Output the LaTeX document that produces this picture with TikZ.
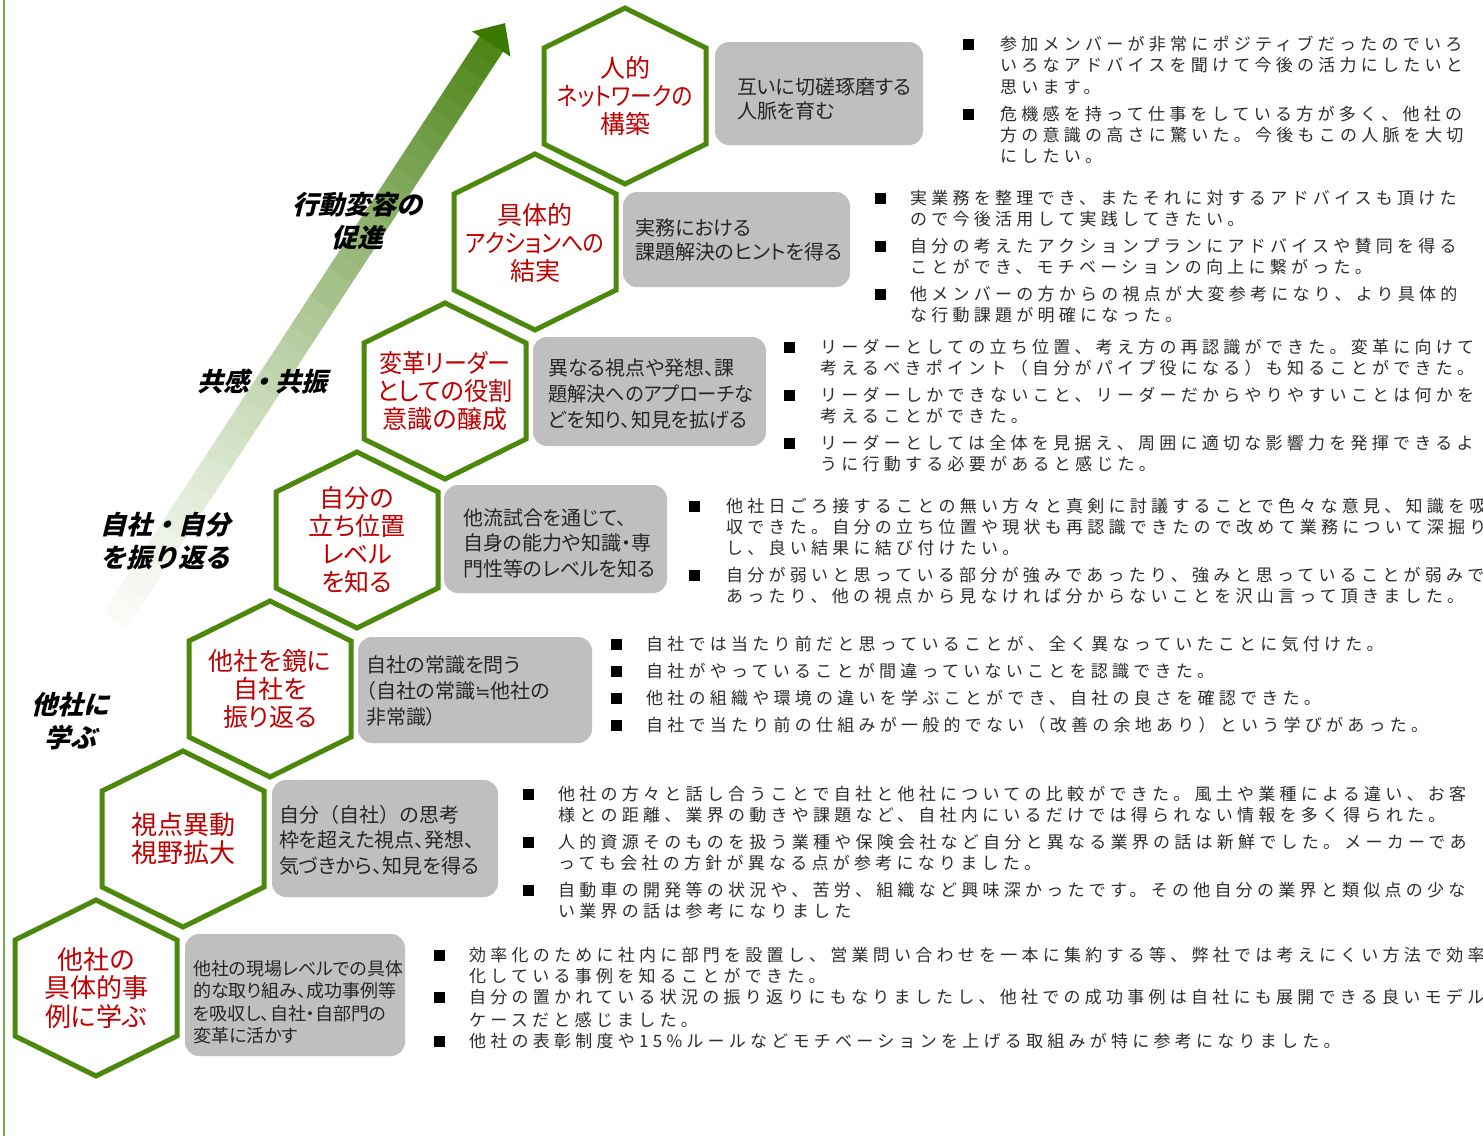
\documentclass[tikz,border=0pt]{standalone}
\usepackage{fontspec}
\usepackage{graphicx}
\newfontfamily\jpp{Noto Sans CJK JP}[RawFeature=+palt]
\newfontfamily\jpn{Noto Sans CJK JP}
\newfontfamily\jpc{Noto Sans CJK JP}[LetterSpace=25]
\newfontfamily\jpi{Noto Sans CJK JP}[FakeSlant=0.25]
\newfontfamily\dvs{DejaVu Sans}
\definecolor{hexgreen}{RGB}{76,136,12}
\definecolor{hexred}{RGB}{192,0,0}
\definecolor{boxgray}{RGB}{191,191,191}
\definecolor{arrowgreen}{RGB}{58,120,0}
\definecolor{edgegreen}{RGB}{112,173,71}
\definecolor{boxtext}{RGB}{38,38,38}
\definecolor{cmttext}{RGB}{45,45,45}
\newcommand\hexshape[2]{\draw[hexline,shift={(#1,#2)}] (0,-88) -- (81,-48) -- (81,48) -- (0,88) -- (-81,48) -- (-81,-48) -- cycle;}
\newcommand\cl[4]{\node[cmt] (#1) at (#2,#3) {#4};}
\newcommand\bul[2]{\fill[bulletsq] (#1-5.5,#2-5.5) rectangle (#1+5.5,#2+5.5);}
\newcommand\narrow[2]{\scalebox{#1}[1]{#2}}
\tikzset{
 hexline/.style={draw=hexgreen, line width=5pt, fill=white, line join=miter},
 hextext/.style={font=\jpp\fontsize{25}{28}\selectfont, text=hexred, align=center, inner sep=0pt},
 graybox/.style={fill=boxgray, rounded corners=14pt},
 boxtxt/.style={font=\jpp\fontsize{20}{25}\selectfont, text=boxtext, align=left, anchor=west, inner sep=0pt},
 cmt/.style={font=\jpc\fontsize{17}{21}\selectfont, text=cmttext, anchor=west, inner sep=0pt, text height=15pt, text depth=2pt},
 bulletsq/.style={fill=black},
 lbl/.style={font=\jpi\bfseries\fontsize{26}{33}\selectfont, align=center, inner sep=0pt},
}
\begin{document}
\begin{tikzpicture}[x=1pt,y=-1pt]
\useasboundingbox (0,0) rectangle (1483,1136);
\fill[white] (0,0) rectangle (1483,1136);
% left edge line
\draw[edgegreen, line width=1.5pt] (4,0) -- (4,1136);
% big gradient arrow
\begin{scope}[shift={(115,620)}, rotate=56.84]
 \foreach \i in {0,...,39} {
   \pgfmathsetmacro\xa{\i*17.2}
   \pgfmathsetmacro\xb{\i*17.2+18}
   \pgfmathtruncatemacro\pc{3+89*((\i+0.5)/40)^1.3}
   \fill[arrowgreen!\pc!white] (\xa,-14) rectangle (\xb,14);
 }
 \fill[arrowgreen] (688,-23) -- (713,0) -- (688,23) -- cycle;
\end{scope}
% labels along arrow
\node[lbl] (l1) at (357,221) {行動変容の\\促進};
\node[lbl] (l2) at (262,381) {共感・共振};
\node[lbl] (l3) at (165,541) {自社・自分\\を振り返る};
\node[lbl] (l4) at (70,721) {他社に\\学ぶ};
% hexagons
\hexshape{625}{96}
\hexshape{535}{242}
\hexshape{445}{391}
\hexshape{357}{540}
\hexshape{270}{689}
\hexshape{183}{839}
\hexshape{96}{988}
\node[hextext] (h1) at (625,96) {人的\\\narrow{0.87}{ネットワークの}\\構築};
\node[hextext] (h2) at (535,243) {具体的\\\narrow{0.88}{アクションへの}\\結実};
\node[hextext] (h3) at (445,391) {\narrow{0.92}{変革リーダー}\\\narrow{0.97}{としての役割}\\意識の醸成};
\node[hextext] (h4) at (357,540) {自分の\\立ち位置\\レベル\\を知る};
\node[hextext] (h5) at (270,689) {他社を鏡に\\自社を\\振り返る};
\node[hextext, font=\jpp\fontsize{26}{28}\selectfont] (h6) at (183,839) {視点異動\\視野拡大};
\node[hextext, font=\jpp\fontsize{26}{28.5}\selectfont] (h7) at (96,988) {他社の\\具体的事\\例に学ぶ};
% gray boxes
\fill[graybox] (715,42) rectangle (923,145);
\fill[graybox] (623,192) rectangle (850,287);
\fill[graybox] (533,337) rectangle (766,446);
\fill[graybox] (444,485) rectangle (667,593);
\fill[graybox] (358,637) rectangle (592,743);
\fill[graybox] (272,780) rectangle (498,897);
\fill[graybox] (185,934) rectangle (405,1056);
\node[boxtxt, font=\jpp\fontsize{20}{24}\selectfont] (b1) at (737,99) {互いに切磋琢磨する\\人脈を育む};
\node[boxtxt, font=\jpp\fontsize{20}{24}\selectfont] (b2) at (635,240) {実務における\\課題解決のヒントを得る};
\node[boxtxt, font=\jpp\fontsize{20}{26}\selectfont] (b3) at (548,394) {異なる視点や発想、課\\\narrow{0.96}{題解決へのアプローチな}\\どを知り、知見を拡げる};
\node[boxtxt, font=\jpp\fontsize{20}{25.5}\selectfont] (b4) at (463,543) {他流試合を通じて、\\自身の能力や知識・専\\門性等のレベルを知る};
\node[boxtxt, font=\jpp\fontsize{20}{26}\selectfont] (b5) at (366,691) {自社の常識を問う\\（自社の常識{\dvs\fontsize{18}{26}\selectfont ≒}他社の\\非常識）};
\node[boxtxt, font=\jpp\fontsize{20}{25.5}\selectfont] (b6) at (279,840) {{\jpn 自分（自社）の思考}\\枠を超えた視点、発想、\\気づきから、知見を得る};
\node[boxtxt, font=\jpp\fontsize{18}{22.5}\selectfont] (b7) at (193,1002) {他社の現場レベルでの具体\\的な取り組み、成功事例等\\を吸収し、自社・自部門の\\変革に活かす};
% comments block 1
\bul{968}{44}\bul{968}{114}
\cl{c11}{1000}{44}{参加メンバーが非常にポジティブだったのでいろ}
\cl{c12}{1000}{65}{いろなアドバイスを聞けて今後の活力にしたいと}
\cl{c13}{1000}{87}{思います。}
\cl{c14}{1000}{114}{危機感を持って仕事をしている方が多く、他社の}
\cl{c15}{1000}{135}{方の意識の高さに驚いた。今後もこの人脈を大切}
\cl{c16}{1000}{156}{にしたい。}
% block 2
\bul{880}{198}\bul{880}{246}\bul{880}{294}
\cl{c21}{910}{198}{実業務を整理でき、またそれに対するアドバイスも頂けた}
\cl{c22}{910}{219}{ので今後活用して実践してきたい。}
\cl{c23}{910}{246}{自分の考えたアクションプランにアドバイスや賛同を得る}
\cl{c24}{910}{267}{ことができ、モチベーションの向上に繋がった。}
\cl{c25}{910}{294}{他メンバーの方からの視点が大変参考になり、より具体的}
\cl{c26}{910}{315}{な行動課題が明確になった。}
% block 3
\bul{789}{347}\bul{789}{395}\bul{789}{443}
\cl{c31}{820}{347}{リーダーとしての立ち位置、考え方の再認識ができた。変革に向けて}
\cl{c32}{820}{368}{考えるべきポイント（自分がパイプ役になる）も知ることができた。}
\cl{c33}{820}{395}{リーダーしかできないこと、リーダーだからやりやすいことは何かを}
\cl{c34}{820}{416}{考えることができた。}
\cl{c35}{820}{443}{リーダーとしては全体を見据え、周囲に適切な影響力を発揮できるよ}
\cl{c36}{820}{464}{うに行動する必要があると感じた。}
% block 4
\bul{694}{506}\bul{694}{575}
\cl{c41}{726}{506}{他社日ごろ接することの無い方々と真剣に討議することで色々な意見、知識を吸}
\cl{c42}{726}{527}{収できた。自分の立ち位置や現状も再認識できたので改めて業務について深掘り}
\cl{c43}{726}{548}{し、良い結果に結び付けたい。}
\cl{c44}{726}{575}{自分が弱いと思っている部分が強みであったり、強みと思っていることが弱みで}
\cl{c45}{726}{596}{あったり、他の視点から見なければ分からないことを沢山言って頂きました。}
% block 5
\bul{616}{644}\bul{616}{671}\bul{616}{698}\bul{616}{725}
\cl{c51}{646}{644}{自社では当たり前だと思っていることが、全く異なっていたことに気付けた。}
\cl{c52}{646}{671}{自社がやっていることが間違っていないことを認識できた。}
\cl{c53}{646}{698}{他社の組織や環境の違いを学ぶことができ、自社の良さを確認できた。}
\cl{c54}{646}{725}{自社で当たり前の仕組みが一般的でない（改善の余地あり）という学びがあった。}
% block 6
\bul{528}{794}\bul{528}{842}\bul{528}{890}
\cl{c61}{558}{794}{他社の方々と話し合うことで自社と他社についての比較ができた。風土や業種による違い、お客}
\cl{c62}{558}{815}{様との距離、業界の動きや課題など、自社内にいるだけでは得られない情報を多く得られた。}
\cl{c63}{558}{842}{人的資源そのものを扱う業種や保険会社など自分と異なる業界の話は新鮮でした。メーカーであ}
\cl{c64}{558}{863}{っても会社の方針が異なる点が参考になりました。}
\cl{c65}{558}{890}{自動車の開発等の状況や、苦労、組織など興味深かったです。その他自分の業界と類似点の少な}
\cl{c66}{558}{911}{い業界の話は参考になりました}
% block 7
\bul{439}{955}\bul{439}{997}\bul{439}{1041}
\cl{c71}{469}{955}{効率化のために社内に部門を設置し、営業問い合わせを一本に集約する等、弊社では考えにくい方法で効率}
\cl{c72}{469}{976}{化している事例を知ることができた。}
\cl{c73}{469}{997}{自分の置かれている状況の振り返りにもなりましたし、他社での成功事例は自社にも展開できる良いモデル}
\cl{c74}{469}{1020}{ケースだと感じました。}
\cl{c75}{469}{1041}{他社の表彰制度や15\%ルールなどモチベーションを上げる取組みが特に参考になりました。}
\end{tikzpicture}
\end{document}
